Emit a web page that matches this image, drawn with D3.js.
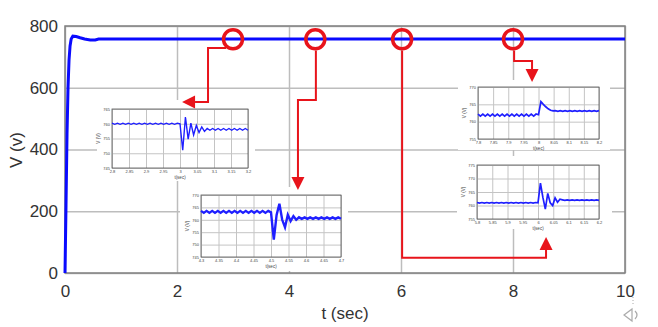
<!DOCTYPE html>
<html>
<head>
<meta charset="utf-8">
<script src="https://cdn.jsdelivr.net/npm/d3@7"></script>
<style>
  body { margin: 0; background: #fff; }
  text { font-family: 'Liberation Sans', Arial, sans-serif; }
</style>
</head>
<body>
<script>
// main trace
const mainT = [0, 0.018, 0.036, 0.054, 0.072, 0.09, 0.11, 0.14, 0.2, 0.27, 0.35, 0.45, 0.54, 0.6, 10];
const mainV = [0, 220, 450, 600, 690, 735, 758, 767, 766, 762, 758, 755, 755, 758, 758];
const xTicks = [0, 2, 4, 6, 8, 10];
const yTicks = [0, 200, 400, 600, 800];

// marked events on the main trace
const markT = [3.0, 4.47, 6.02, 8.0];
const markV = [757, 757, 757, 757];

// zoomed traces, sampled every 0.008 s
const inStep = 0.008;
const in1Start = 2.8;
const in1V = [760.2, 759.8, 760.2, 759.8, 760.2, 759.8, 760.2, 759.8, 760.2, 759.8, 760.2, 759.8, 760.2,
  759.8, 760.2, 759.8, 760.2, 759.8, 760.2, 759.8, 760.2, 759.8, 760.2, 759.8, 760.2,
  760.0, 751.0, 762.3, 754.8, 760.2, 756.2, 759.4, 757.0, 758.9, 757.4,
  758.4, 757.8, 758.4, 757.8, 758.4, 757.8, 758.4, 757.8, 758.4, 757.8, 758.4, 757.8, 758.4, 757.8, 758.4, 757.8];
const in2Start = 4.3;
const in2V = [763.6, 762.8, 763.6, 762.8, 763.6, 762.8, 763.6, 762.8, 763.6, 762.8, 763.6, 762.8, 763.6,
  762.8, 763.6, 762.8, 763.6, 762.8, 763.6, 762.8, 763.6, 762.8, 763.6, 762.8, 763.6,
  763.0, 752.0, 762.0, 766.5, 760.0, 757.0, 762.0, 759.5, 761.5, 760.0,
  761.0, 760.4, 761.0, 760.4, 761.0, 760.4, 761.0, 760.4, 761.0, 760.4, 761.0, 760.4, 761.0, 760.4, 761.0, 760.4];
const in3Start = 7.8;
const in3V = [762.2, 761.6, 762.2, 761.6, 762.2, 761.6, 762.2, 761.6, 762.2, 761.6, 762.2, 761.6, 762.2,
  761.6, 762.2, 761.6, 762.2, 761.6, 762.2, 761.6, 762.2, 761.6, 762.2, 761.6, 762.2,
  762.0, 765.8, 765.0, 764.3, 763.7, 763.3, 763.1,
  763.2, 763.0, 763.2, 763.0, 763.2, 763.0, 763.2, 763.0, 763.2, 763.0, 763.2, 763.0, 763.2, 763.0, 763.2, 763.0, 763.2, 763.0, 763.2];
const in4Start = 5.8;
const in4V = [761.1, 760.9, 761.1, 760.9, 761.1, 760.9, 761.1, 760.9, 761.1, 760.9, 761.1, 760.9, 761.1,
  760.9, 761.1, 760.9, 761.1, 760.9, 761.1, 760.9, 761.1, 760.9, 761.1, 760.9, 761.1,
  761.0, 768.3, 763.0, 758.7, 764.5, 761.0, 760.0, 762.8, 761.2, 762.3,
  762.1, 761.9, 762.1, 761.9, 762.1, 761.9, 762.1, 761.9, 762.1, 761.9, 762.1, 761.9, 762.1, 761.9, 762.1, 761.9];

const width = 658;
const height = 327;
const plotL = 65, plotR = 625, plotT = 26, plotB = 273;

const svg = d3.select('body').append('svg')
  .attr('width', width)
  .attr('height', height);

const x = d3.scaleLinear().domain([0, 10]).range([plotL, plotR]);
const y = d3.scaleLinear().domain([0, 800]).range([plotB, plotT]);

// grid + tick labels
const xAxis = svg.append('g')
  .attr('transform', `translate(0,${plotB})`)
  .call(d3.axisBottom(x).tickValues(xTicks).tickSize(-(plotB - plotT)).tickPadding(12));
const yAxis = svg.append('g')
  .attr('transform', `translate(${plotL},0)`)
  .call(d3.axisLeft(y).tickValues(yTicks).tickSize(-(plotR - plotL)).tickPadding(7));
[xAxis, yAxis].forEach((a) => {
  a.select('.domain').remove();
  a.selectAll('line').attr('stroke', '#bdbdbd').attr('stroke-width', 1.5);
  a.selectAll('text').attr('font-size', 17).attr('fill', '#333');
});

svg.append('rect')
  .attr('x', plotL).attr('y', plotT)
  .attr('width', plotR - plotL).attr('height', plotB - plotT)
  .attr('fill', 'none').attr('stroke', '#808080').attr('stroke-width', 1.5);

svg.append('text')
  .attr('transform', 'translate(22,150) rotate(-90)')
  .attr('text-anchor', 'middle')
  .attr('font-size', 17).attr('fill', '#333')
  .text('V (v)');
svg.append('text')
  .attr('x', 345).attr('y', 319)
  .attr('text-anchor', 'middle')
  .attr('font-size', 17).attr('fill', '#333')
  .text('t (sec)');

const line = d3.line().x((d) => x(d[0])).y((d) => y(d[1]));
svg.append('path')
  .datum(mainT.map((t, i) => [t, mainV[i]]))
  .attr('d', line)
  .attr('fill', 'none')
  .attr('stroke', '#0a0aff')
  .attr('stroke-width', 3);

// insets
function drawInset(o) {
  const g = svg.append('g');
  g.append('rect')
    .attr('x', o.box[0]).attr('y', o.box[1])
    .attr('width', o.box[2] - o.box[0]).attr('height', o.box[3] - o.box[1])
    .attr('fill', '#fff');
  const xs = d3.scaleLinear().domain([o.start, o.start + 0.4]).range([o.x0, o.x1]);
  const ys = d3.scaleLinear().domain(o.yDom).range([o.y1, o.y0]);
  const xt = d3.range(9).map((i) => o.start + i * 0.05);
  const ax = g.append('g').attr('transform', `translate(0,${o.y1})`)
    .call(d3.axisBottom(xs).tickValues(xt).tickSize(-(o.y1 - o.y0)).tickPadding(2).tickFormat(d3.format('~g')));
  const ay = g.append('g').attr('transform', `translate(${o.x0},0)`)
    .call(d3.axisLeft(ys).tickValues(o.yTicks).tickSize(-(o.x1 - o.x0)).tickPadding(2));
  [ax, ay].forEach((a) => {
    a.select('.domain').remove();
    a.selectAll('line').attr('stroke', '#c4c4c4').attr('stroke-width', 1);
    a.selectAll('text').attr('font-size', 4).attr('fill', '#444');
  });
  g.append('rect')
    .attr('x', o.x0).attr('y', o.y0)
    .attr('width', o.x1 - o.x0).attr('height', o.y1 - o.y0)
    .attr('fill', 'none').attr('stroke', '#555').attr('stroke-width', 0.8);
  g.append('path')
    .datum(o.values.map((v, i) => [o.start + i * inStep, v]))
    .attr('d', d3.line().x((d) => xs(d[0])).y((d) => ys(d[1])))
    .attr('fill', 'none')
    .attr('stroke', '#1f1fff')
    .attr('stroke-width', o.lw);
  g.append('text')
    .attr('transform', `translate(${o.x0 - 12},${(o.y0 + o.y1) / 2}) rotate(-90)`)
    .attr('text-anchor', 'middle').attr('font-size', 4.5).attr('fill', '#444')
    .text('V (V)');
  g.append('text')
    .attr('x', (o.x0 + o.x1) / 2).attr('y', o.y1 + 11)
    .attr('text-anchor', 'middle').attr('font-size', 4.5).attr('fill', '#444')
    .text('t(sec)');
}

drawInset({ box: [97, 100, 255, 181], x0: 112, x1: 248, y0: 109, y1: 168, start: in1Start,
  yDom: [745, 765], yTicks: [745, 750, 755, 760, 765], values: in1V, lw: 1.4 });
drawInset({ box: [180, 187, 348, 271], x0: 201, x1: 341, y0: 195, y1: 257, start: in2Start,
  yDom: [745, 770], yTicks: [745, 750, 755, 760, 765, 770], values: in2V, lw: 2.4 });
drawInset({ box: [458, 80, 610, 150], x0: 478, x1: 599, y0: 87, y1: 139, start: in3Start,
  yDom: [755, 770], yTicks: [755, 760, 765, 770], values: in3V, lw: 1.7 });
drawInset({ box: [457, 156, 612, 229], x0: 477, x1: 599, y0: 165, y1: 219, start: in4Start,
  yDom: [755, 775], yTicks: [755, 760, 765, 770, 775], values: in4V, lw: 1.7 });

// red call-outs, in (t, V)
const arrows = [
  [[2.875, 729], [2.554, 729], [2.554, 554], [2.09, 554]],
  [[4.48, 721], [4.48, 560], [4.16, 560], [4.16, 269]],
  [[6.02, 721], [6.02, 49], [8.59, 49], [8.59, 117]],
  [[8.02, 721], [8.02, 687], [8.34, 687], [8.34, 619]]
];
const red = '#e8141b';
arrows.forEach((pts) => {
  const p = pts.map((d) => [x(d[0]), y(d[1])]);
  const tip = p[p.length - 1];
  const prev = p[p.length - 2];
  const dx = tip[0] - prev[0], dy = tip[1] - prev[1];
  const len = Math.hypot(dx, dy);
  const ux = dx / len, uy = dy / len;
  const hl = 13, hw = 6.5;
  const base = [tip[0] - ux * hl, tip[1] - uy * hl];
  const shaft = p.slice(0, -1).concat([base]);
  svg.append('path')
    .attr('d', d3.line()(shaft))
    .attr('fill', 'none').attr('stroke', red).attr('stroke-width', 2);
  svg.append('path')
    .attr('d', d3.line()([tip, [base[0] - uy * hw, base[1] + ux * hw], [base[0] + uy * hw, base[1] - ux * hw]]) + 'Z')
    .attr('fill', red);
});

svg.selectAll('circle.mark')
  .data(markT)
  .enter()
  .append('circle')
  .attr('class', 'mark')
  .attr('cx', (d) => x(d))
  .attr('cy', (d, i) => y(markV[i]))
  .attr('r', 9.5)
  .attr('fill', 'none')
  .attr('stroke', red)
  .attr('stroke-width', 3.5);

// small speaker glyph bottom right
svg.append('path')
  .attr('d', 'M624,315 L632,309 L632,321 Z M635,311 Q639,315 635,319')
  .attr('fill', 'none').attr('stroke', '#aaa').attr('stroke-width', 1.2);
svg.append('line')
  .attr('x1', 633).attr('y1', 297).attr('x2', 633).attr('y2', 306)
  .attr('stroke', '#aaa').attr('stroke-dasharray', '1,2');
</script>
</body>
</html>
